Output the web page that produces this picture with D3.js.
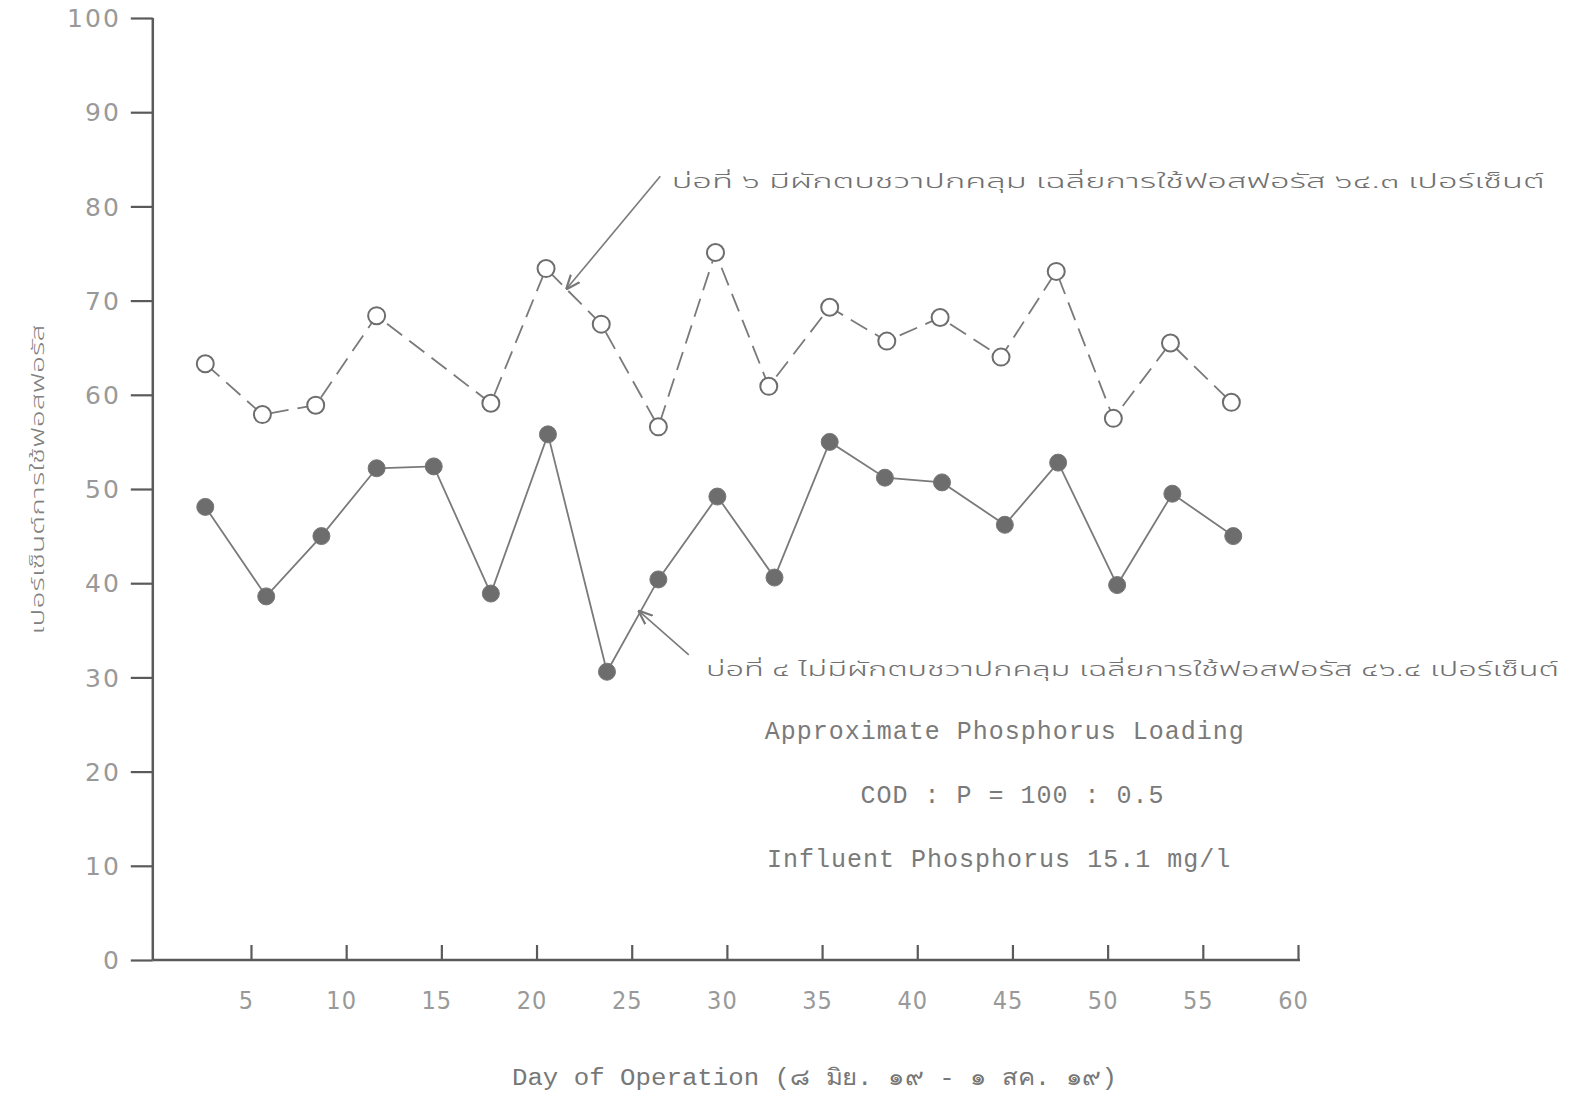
<!DOCTYPE html>
<html>
<head>
<meta charset="utf-8">
<script src="https://cdn.jsdelivr.net/npm/d3@7"></script>
<style>
  html, body { margin: 0; padding: 0; background: #fff; }
  svg { display: block; }
</style>
</head>
<body>
<svg id="chart" width="1571" height="1093"></svg>
<script>
// ---- Data ----
// Pond 6 (covered with water hyacinth) – open circles, dashed line
const pond6Days   = [2.6, 5.6, 8.4, 11.6, 17.6, 20.5, 23.4, 26.4, 29.4, 32.2, 35.4, 38.4, 41.2, 44.4, 47.3, 50.3, 53.3, 56.5];
const pond6Values = [63.3, 57.9, 58.9, 68.4, 59.1, 73.4, 67.5, 56.6, 75.1, 60.9, 69.3, 65.7, 68.2, 64.0, 73.1, 57.5, 65.5, 59.2];
// Pond 4 (not covered) – filled circles, solid line
const pond4Days   = [2.6, 5.8, 8.7, 11.6, 14.6, 17.6, 20.6, 23.7, 26.4, 29.5, 32.5, 35.4, 38.3, 41.3, 44.6, 47.4, 50.5, 53.4, 56.6];
const pond4Values = [48.1, 38.6, 45.0, 52.2, 52.4, 38.9, 55.8, 30.6, 40.4, 49.2, 40.6, 55.0, 51.2, 50.7, 46.2, 52.8, 39.8, 49.5, 45.0];

const xTicks = [5, 10, 15, 20, 25, 30, 35, 40, 45, 50, 55, 60];
const yTicks = [0, 10, 20, 30, 40, 50, 60, 70, 80, 90, 100];

const pond6Label = "บ่อที่ ๖  มีผักตบชวาปกคลุม   เฉลี่ยการใช้ฟอสฟอรัส ๖๔.๓ เปอร์เซ็นต์";
const pond4Label = "บ่อที่ ๔  ไม่มีผักตบชวาปกคลุม เฉลี่ยการใช้ฟอสฟอรัส ๔๖.๔ เปอร์เซ็นต์";
const noteLines  = ["Approximate Phosphorus Loading", "COD : P = 100 : 0.5", "Influent Phosphorus 15.1 mg/l"];
const xTitle = "Day of Operation (๘ มิย. ๑๙ - ๑ สค. ๑๙)";
const yTitle = "เปอร์เซ็นต์การใช้ฟอสฟอรัส";

// ---- Scales ----
const svg = d3.select("#chart");
const x = d3.scaleLinear().domain([0, 60]).range([155.8, 1298]);
const y = d3.scaleLinear().domain([0, 100]).range([960, 18]);

const axisColor = "#5a5a5a";
const tickTextColor = "#999";

// ---- Y axis ----
const yAxis = d3.axisLeft(y).tickValues(yTicks).tickSize(22).tickPadding(10).tickFormat(d3.format("d"));
const gy = svg.append("g").attr("transform", `translate(${x(0) - 3},0)`).call(yAxis);
gy.select(".domain").attr("stroke", axisColor).attr("stroke-width", 2.5).attr("d", `M0,${y(100)}V${y(0)}`);
gy.selectAll(".tick line").attr("stroke", axisColor).attr("stroke-width", 2.2);
gy.selectAll(".tick text")
  .attr("fill", tickTextColor)
  .attr("font-family", "'DejaVu Sans', sans-serif")
  .attr("font-size", 25)
  .attr("letter-spacing", 2)
  .attr("dy", "0.35em");

// ---- X axis ----
const xAxis = d3.axisBottom(x).tickValues(xTicks).tickSize(-15).tickPadding(31).tickFormat(d3.format("d"));
const gx = svg.append("g").attr("transform", `translate(0,${y(0)})`).call(xAxis);
gx.select(".domain").attr("stroke", axisColor).attr("stroke-width", 2.5).attr("d", `M${x(0) - 3},0H${x(60) + 2}`);
gx.selectAll(".tick line").attr("stroke", axisColor).attr("stroke-width", 2.2);
gx.selectAll(".tick text")
  .attr("fill", tickTextColor)
  .attr("font-family", "'Liberation Sans Narrow', 'DejaVu Sans Condensed', 'DejaVu Sans', sans-serif")
  .attr("font-size", 25)
  .attr("letter-spacing", 1)
  .attr("dx", "-0.2em");

// ---- Lines ----
const line = d3.line().x(d => x(d[0])).y(d => y(d[1]));
const pond6 = d3.zip(pond6Days, pond6Values);
const pond4 = d3.zip(pond4Days, pond4Values);

svg.append("path").datum(pond4).attr("d", line)
  .attr("fill", "none").attr("stroke", "#7a7a7a").attr("stroke-width", 1.8);
svg.append("path").datum(pond6).attr("d", line)
  .attr("fill", "none").attr("stroke", "#7a7a7a").attr("stroke-width", 1.8)
  .attr("stroke-dasharray", "19 9");

svg.append("g").selectAll("circle").data(pond4).join("circle")
  .attr("cx", d => x(d[0])).attr("cy", d => y(d[1])).attr("r", 8.5)
  .attr("fill", "#6d6d6d").attr("stroke", "#777").attr("stroke-width", 1);
svg.append("g").selectAll("circle").data(pond6).join("circle")
  .attr("cx", d => x(d[0])).attr("cy", d => y(d[1])).attr("r", 8.5)
  .attr("fill", "#fff").attr("stroke", "#6d6d6d").attr("stroke-width", 2);

// ---- Annotation arrows ----
svg.append("defs").append("marker")
  .attr("id", "arr").attr("viewBox", "0 0 10 10").attr("refX", 9).attr("refY", 5)
  .attr("markerWidth", 9).attr("markerHeight", 9).attr("orient", "auto")
  .append("path").attr("d", "M0,1L10,5L0,9").attr("fill", "none").attr("stroke", "#777").attr("stroke-width", 1.5);

svg.append("line")
  .attr("x1", x(26.5)).attr("y1", y(83.2)).attr("x2", x(21.6)).attr("y2", y(71.3))
  .attr("stroke", "#7a7a7a").attr("stroke-width", 1.6).attr("marker-end", "url(#arr)");
svg.append("line")
  .attr("x1", x(28.0)).attr("y1", y(32.4)).attr("x2", x(25.4)).attr("y2", y(37.0))
  .attr("stroke", "#7a7a7a").attr("stroke-width", 1.6).attr("marker-end", "url(#arr)");

const thaiFont = "'Noto Sans Thai', 'Noto Sans', 'DejaVu Sans', sans-serif";
svg.append("text").text(pond6Label)
  .attr("x", x(27.1)).attr("y", y(82.0))
  .attr("font-family", thaiFont).attr("font-size", 19).attr("font-weight", 300).attr("fill", "#707070")
  .attr("textLength", 873).attr("lengthAdjust", "spacingAndGlyphs");
svg.append("text").text(pond4Label)
  .attr("x", x(28.9)).attr("y", y(30.1))
  .attr("font-family", thaiFont).attr("font-size", 19).attr("font-weight", 300).attr("fill", "#707070")
  .attr("textLength", 853).attr("lengthAdjust", "spacingAndGlyphs");

// ---- Notes ----
const monoFont = "'Liberation Mono', 'DejaVu Sans Mono', monospace";
const noteY = [23.5, 16.7, 9.9];
const noteX = [44.6, 45.0, 44.3];
noteLines.forEach((t, i) => {
  svg.append("text").text(t)
    .attr("x", x(noteX[i])).attr("y", y(noteY[i]))
    .attr("font-family", monoFont).attr("font-size", 25).attr("fill", "#7a7a7a")
    .attr("letter-spacing", 1).attr("text-anchor", "middle");
});

// ---- Axis titles ----
svg.append("text").text(xTitle)
  .attr("x", x(34.6)).attr("y", 1085)
  .attr("font-family", "'Liberation Mono', 'DejaVu Sans Mono', monospace").attr("font-size", 23)
  .attr("fill", "#777").attr("text-anchor", "middle")
  .attr("textLength", 605).attr("lengthAdjust", "spacingAndGlyphs");

svg.append("text").text(yTitle)
  .attr("transform", `translate(44,${y(51)}) rotate(-90)`)
  .attr("font-family", thaiFont).attr("font-size", 17).attr("font-weight", 300).attr("fill", "#808080")
  .attr("text-anchor", "middle")
  .attr("textLength", 310).attr("lengthAdjust", "spacingAndGlyphs");
</script>
</body>
</html>
